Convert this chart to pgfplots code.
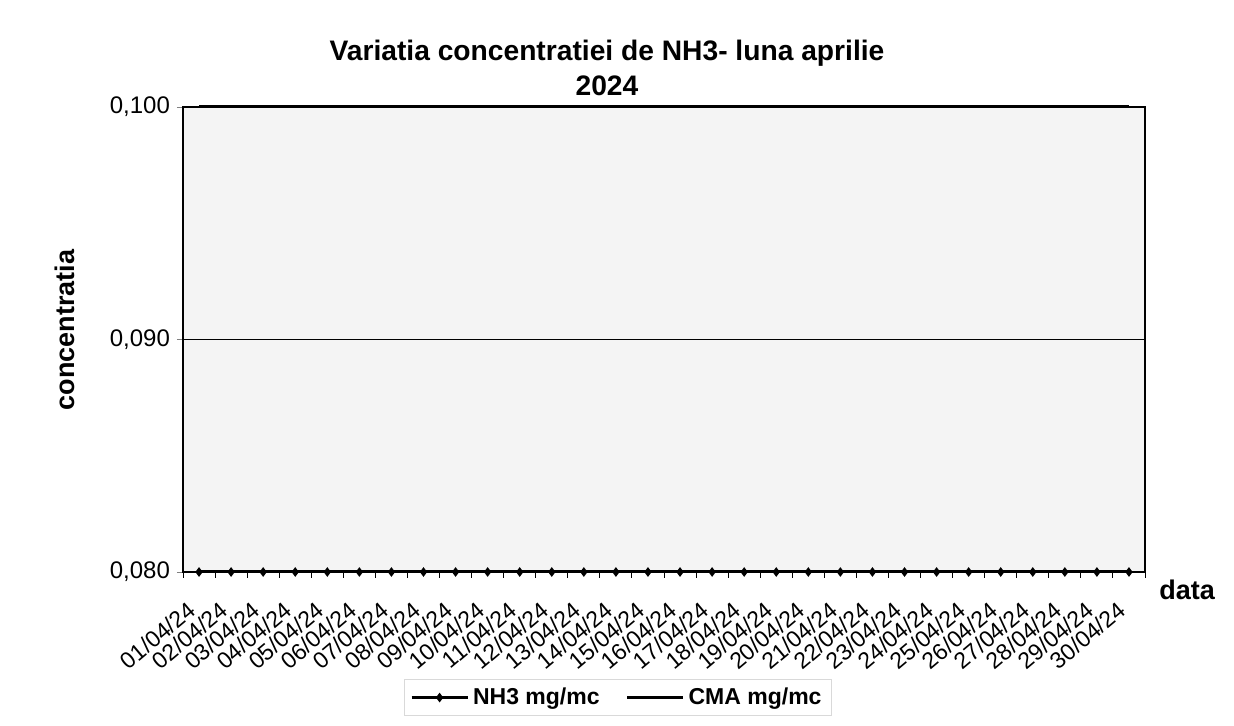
\documentclass[border=0pt]{standalone}
\usepackage{pgfplots}
\pgfplotsset{compat=1.18}
\usepackage{fontspec}
\setmainfont{Liberation Sans}
\begin{document}
\begin{tikzpicture}
\useasboundingbox (0,0) rectangle (617pt,363pt);
\node[font=\bfseries\fontsize{14.1}{17.5}\selectfont, align=center] at (303.5pt,329pt) {Variatia concentratiei de NH3- luna aprilie\\2024};
\begin{axis}[
  at={(91.5pt,77pt)}, anchor=south west,
  scale only axis, width=481pt, height=232.5pt,
  xmin=0.5, xmax=30.5, ymin=0.080, ymax=0.100,
  clip=false,
  axis background/.style={fill=gray!9},
  axis line style={black, line width=0.6pt},
  xtick={1,...,30},
  xticklabels={01/04/24,02/04/24,03/04/24,04/04/24,05/04/24,06/04/24,07/04/24,08/04/24,09/04/24,10/04/24,11/04/24,12/04/24,13/04/24,14/04/24,15/04/24,16/04/24,17/04/24,18/04/24,19/04/24,20/04/24,21/04/24,22/04/24,23/04/24,24/04/24,25/04/24,26/04/24,27/04/24,28/04/24,29/04/24,30/04/24},
  major x tick style={draw=none},
  minor xtick={0.5,1.5,...,30.5},
  minor x tick style={black, line width=0.5pt},
  tick align=outside,
  minor tick length=3pt,
  major tick length=3pt,
  xtick pos=bottom, ytick pos=left,
  xticklabel style={font=\fontsize{11.5}{13}\selectfont, xshift=-2.5pt, yshift=-13.5pt, rotate=40, anchor=east, inner sep=1pt},
  ytick={0.080,0.090,0.100},
  ymajorgrids, grid style={black, line width=0.5pt},
  yticklabel style={font=\fontsize{12}{14}\selectfont},
  /pgf/number format/.cd, fixed, fixed zerofill, precision=3, use comma, assume math mode=true,
  /pgfplots/.cd,
  ylabel={concentratia},
  ylabel style={at={(axis description cs:-0.1227,0.52)}, anchor=center, font=\bfseries\fontsize{13.5}{16}\selectfont},
  xlabel={data},
  xlabel style={at={(axis description cs:1.0437,-0.0387)}, anchor=center, font=\bfseries\fontsize{13.5}{16}\selectfont},
  legend columns=2,
  legend style={at={(axis description cs:0.452,-0.27)}, anchor=center, draw=gray!30, fill=white,
    font=\bfseries\fontsize{11.5}{14}\selectfont, /tikz/every even column/.append style={column sep=11pt}},
  legend image code/.code={\draw[#1] (0pt,0pt) -- (28pt,0pt) plot coordinates {(14pt,0pt)};},
]
\addplot[black, line width=1.5pt, mark=diamond*, mark size=1.2pt] coordinates {
(1,0.080)(2,0.080)(3,0.080)(4,0.080)(5,0.080)(6,0.080)(7,0.080)(8,0.080)(9,0.080)(10,0.080)
(11,0.080)(12,0.080)(13,0.080)(14,0.080)(15,0.080)(16,0.080)(17,0.080)(18,0.080)(19,0.080)(20,0.080)
(21,0.080)(22,0.080)(23,0.080)(24,0.080)(25,0.080)(26,0.080)(27,0.080)(28,0.080)(29,0.080)(30,0.080)};
\addlegendentry{NH3 mg/mc}
\addplot[black, line width=1.5pt] coordinates {
(1,0.100)(2,0.100)(3,0.100)(4,0.100)(5,0.100)(6,0.100)(7,0.100)(8,0.100)(9,0.100)(10,0.100)
(11,0.100)(12,0.100)(13,0.100)(14,0.100)(15,0.100)(16,0.100)(17,0.100)(18,0.100)(19,0.100)(20,0.100)
(21,0.100)(22,0.100)(23,0.100)(24,0.100)(25,0.100)(26,0.100)(27,0.100)(28,0.100)(29,0.100)(30,0.100)};
\addlegendentry{CMA mg/mc}
\end{axis}
\end{tikzpicture}
\end{document}
